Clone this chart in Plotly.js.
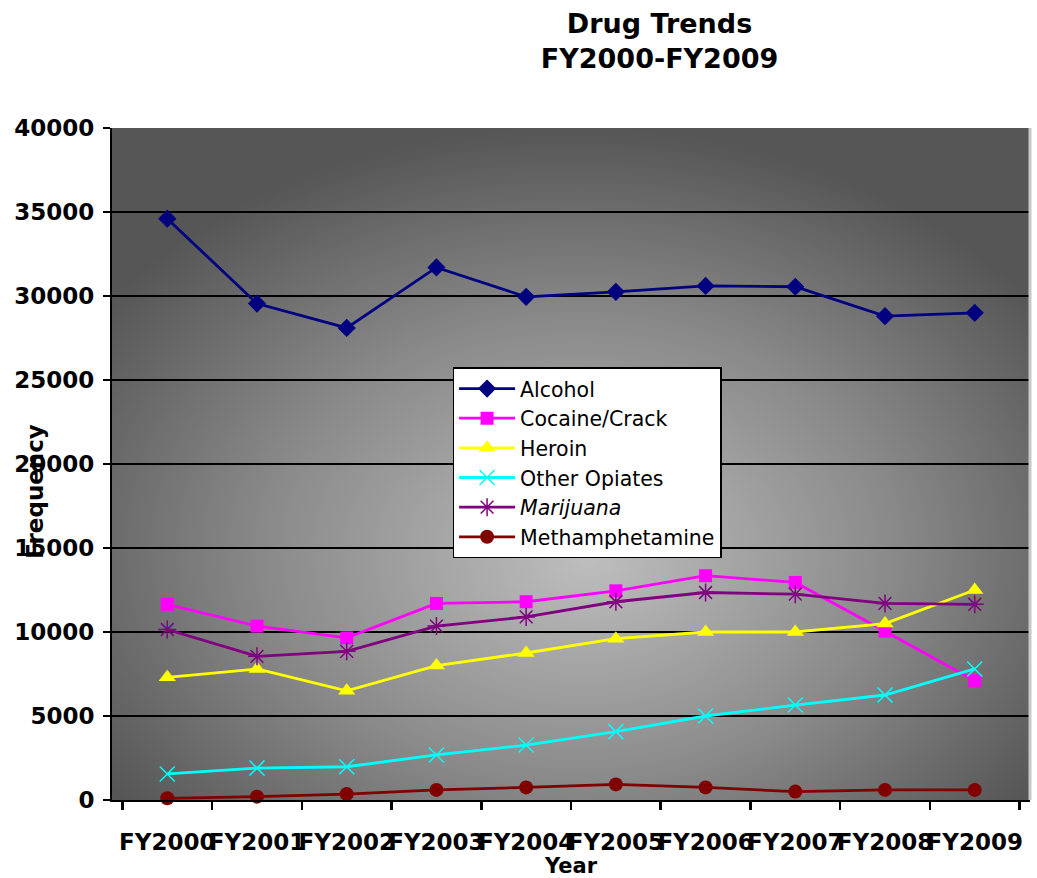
<!DOCTYPE html>
<html>
<head>
<meta charset="utf-8">
<script src="https://cdn.plot.ly/plotly-3.0.1.min.js"></script>
<style>
  html, body { margin: 0; padding: 0; background: #ffffff; }
  #chart { width: 1037px; height: 878px; }
</style>
</head>
<body>
<div id="chart"></div>
<script>
// ---- data ----
const years = ["FY2000","FY2001","FY2002","FY2003","FY2004","FY2005","FY2006","FY2007","FY2008","FY2009"];
const alcohol        = [34600, 29550, 28100, 31700, 29950, 30250, 30600, 30550, 28800, 29000];
const cocaineCrack   = [11650, 10350, 9650, 11700, 11800, 12450, 13350, 12950, 10050, 7100];
const heroin         = [7300, 7800, 6500, 8000, 8750, 9600, 10000, 10000, 10500, 12500];
const otherOpiates   = [1550, 1900, 1980, 2680, 3270, 4070, 5000, 5650, 6250, 7800];
const marijuana      = [10150, 8550, 8850, 10350, 10900, 11800, 12350, 12250, 11700, 11650];
const methamphetamine= [100, 200, 350, 600, 750, 930, 750, 500, 600, 600];
const yTicks = [0, 5000, 10000, 15000, 20000, 25000, 30000, 35000, 40000];
const seriesNames = ["Alcohol", "Cocaine/Crack", "Heroin", "Other Opiates", "<i>Marijuana</i>", "Methamphetamine"];

const series = [
  {name: seriesNames[0], y: alcohol, color: "#000080", symbol: "diamond", size: 14},
  {name: seriesNames[1], y: cocaineCrack, color: "#FF00FF", symbol: "square", size: 13},
  {name: seriesNames[2], y: heroin, color: "#FFFF00", symbol: "triangle-up", size: 15},
  {name: seriesNames[3], y: otherOpiates, color: "#00FFFF", symbol: "x-thin-open", size: 15},
  {name: seriesNames[4], y: marijuana, color: "#800080", symbol: "asterisk-open", size: 15},
  {name: seriesNames[5], y: methamphetamine, color: "#800000", symbol: "circle", size: 14}
];

const traces = series.map(s => ({
  type: "scatter",
  mode: "lines+markers",
  name: s.name,
  x: years,
  y: s.y,
  line: {color: s.color, width: 2.8},
  marker: {color: s.color, symbol: s.symbol, size: s.size,
           line: {color: s.color, width: (s.symbol.indexOf("open") >= 0 ? 1.5 : 0)}},
  cliponaxis: false
}));

const bgSvg = '<svg xmlns="http://www.w3.org/2000/svg" width="918" height="672" viewBox="0 0 918 672" preserveAspectRatio="none">' +
  '<defs><radialGradient id="g" cx="0.5" cy="0.62" r="0.62" fx="0.52" fy="0.64">' +
  '<stop offset="0" stop-color="#bebebe"/>' +
  '<stop offset="0.55" stop-color="#8a8a8a"/>' +
  '<stop offset="1" stop-color="#565656"/>' +
  '</radialGradient></defs>' +
  '<rect x="0" y="0" width="918" height="672" fill="url(#g)"/></svg>';
const bgUri = "data:image/svg+xml;base64," + btoa(bgSvg);

const font = "'DejaVu Sans', Arial, sans-serif";

const layout = {
  width: 1037,
  height: 878,
  margin: {l: 112, r: 7, t: 128, b: 78, pad: 0},
  paper_bgcolor: "#ffffff",
  plot_bgcolor: "rgba(0,0,0,0)",
  showlegend: true,
  font: {family: font, color: "#000000"},
  title: {
    text: "<b>Drug Trends<br>FY2000-FY2009</b>",
    font: {family: font, size: 27, color: "#000000"},
    xref: "container", x: 0.636, xanchor: "center",
    yref: "container", y: 0.962, yanchor: "middle"
  },
  xaxis: {
    type: "category",
    tickson: "boundaries",
    ticks: "outside",
    ticklen: 8,
    tickwidth: 2.5,
    tickcolor: "#000000",
    tickangle: 0,
    showline: true,
    linecolor: "#000000",
    linewidth: 2,
    showgrid: false,
    tickfont: {family: font, size: 23, color: "#000000", weight: "bold"},
    ticklabelstandoff: 20,
    fixedrange: true
  },
  yaxis: {
    range: [0, 40000],
    tickvals: yTicks,
    ticktext: yTicks.map(String),
    ticks: "outside",
    ticklen: 7,
    tickwidth: 2.5,
    tickcolor: "#000000",
    showline: true,
    linecolor: "#000000",
    linewidth: 2,
    showgrid: true,
    gridcolor: "#000000",
    gridwidth: 1.5,
    zeroline: false,
    tickfont: {family: font, size: 23, color: "#000000", weight: "bold"},
    ticklabelstandoff: 4,
    fixedrange: true
  },
  annotations: [
    {text: "<b>Year</b>", xref: "paper", yref: "paper", x: 0.5, y: -0.098,
     xanchor: "center", yanchor: "middle", showarrow: false,
     font: {family: font, size: 21, color: "#000000"}},
    {text: "<b>Frequency</b>", xref: "paper", yref: "paper", x: -0.084, y: 0.46,
     xanchor: "center", yanchor: "middle", textangle: -90, showarrow: false,
     font: {family: font, size: 23, color: "#000000"}}
  ],
  shapes: [
    {type: "line", xref: "paper", yref: "paper", x0: 1, x1: 1, y0: 0, y1: 1,
     line: {color: "#c8c8c8", width: 3}, layer: "above"}
  ],
  legend: {
    x: 0.371, y: 0.644, xanchor: "left", yanchor: "top",
    bgcolor: "#ffffff",
    bordercolor: "#000000",
    borderwidth: 1.5,
    font: {family: font, size: 20.5, color: "#000000"},
    itemwidth: 56,
    tracegroupgap: 0
  },
  images: [{
    source: bgUri,
    xref: "paper", yref: "paper",
    x: 0, y: 1, sizex: 1, sizey: 1,
    xanchor: "left", yanchor: "top",
    sizing: "stretch",
    layer: "below"
  }]
};

Plotly.newPlot("chart", traces, layout, {displayModeBar: false, staticPlot: true});
</script>
</body>
</html>
